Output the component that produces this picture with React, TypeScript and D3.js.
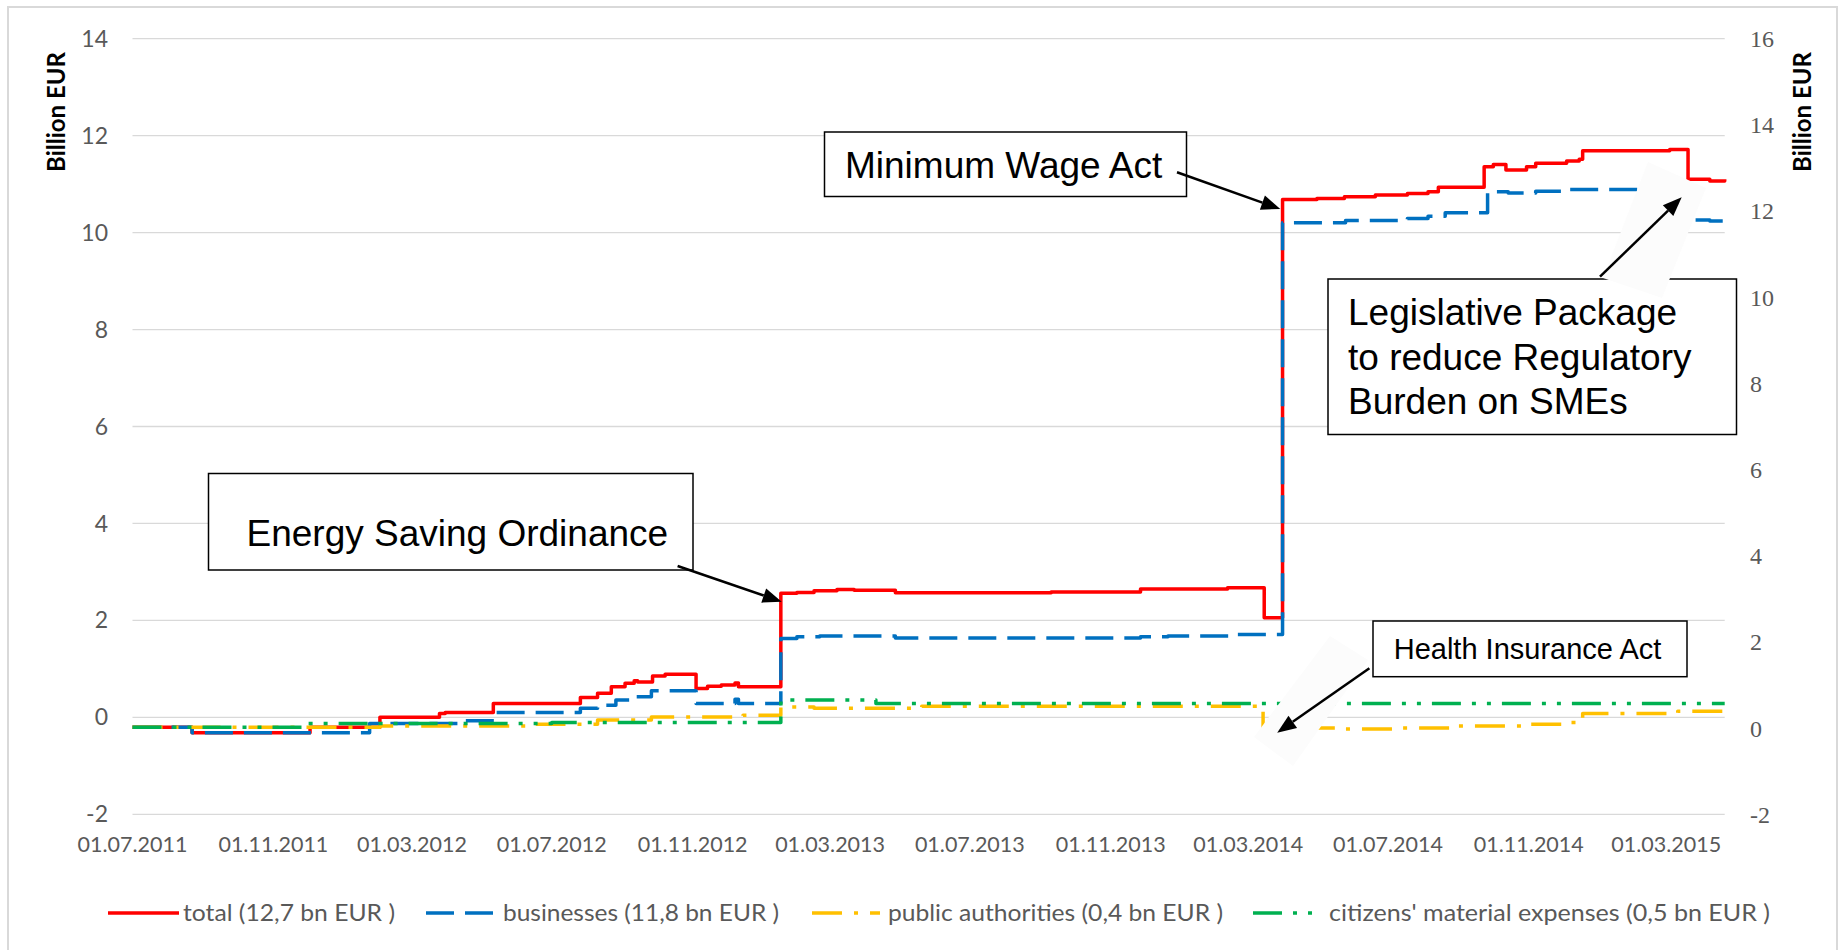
import React from 'react';
import * as d3 from 'd3';

// values (secondary / right axis, bn EUR)
const total: [string, number][] = [
  ['2011-07-01', 0.02], ['2011-08-22', -0.11], ['2011-12-03', 0.02], ['2012-02-02', 0.25],
  ['2012-03-25', 0.34], ['2012-03-30', 0.36], ['2012-05-11', 0.57], ['2012-07-26', 0.71],
  ['2012-08-10', 0.81], ['2012-08-22', 0.96], ['2012-09-03', 1.04], ['2012-09-11', 1.1],
  ['2012-09-14', 1.07], ['2012-09-27', 1.21], ['2012-10-08', 1.25], ['2012-11-04', 0.92],
  ['2012-11-14', 0.97], ['2012-11-26', 1.0], ['2012-12-08', 1.05], ['2012-12-11', 0.96],
  ['2013-01-17', 3.13], ['2013-01-31', 3.15], ['2013-02-15', 3.19], ['2013-03-07', 3.22],
  ['2013-03-22', 3.2], ['2013-04-27', 3.14], ['2013-09-10', 3.16], ['2013-11-27', 3.23],
  ['2014-02-11', 3.26], ['2014-03-15', 2.56], ['2014-03-31', 12.27], ['2014-04-30', 12.29],
  ['2014-05-24', 12.33], ['2014-06-20', 12.37], ['2014-07-18', 12.41], ['2014-08-05', 12.45],
  ['2014-08-14', 12.55], ['2014-09-23', 13.03], ['2014-10-01', 13.08], ['2014-10-12', 12.95],
  ['2014-10-30', 13.03], ['2014-11-07', 13.11], ['2014-12-04', 13.16], ['2014-12-15', 13.2],
  ['2014-12-18', 13.4], ['2015-03-04', 13.43], ['2015-03-20', 12.74], ['2015-04-08', 12.7],
  ['2015-04-21', 12.74],
];

const businesses: [string, number][] = [
  ['2011-07-01', 0.02], ['2011-08-22', -0.11], ['2012-01-24', 0.11], ['2012-04-15', 0.17],
  ['2012-05-13', 0.36], ['2012-07-26', 0.46], ['2012-08-10', 0.53], ['2012-08-26', 0.65],
  ['2012-09-11', 0.73], ['2012-09-26', 0.87], ['2012-11-04', 0.57], ['2012-12-08', 0.67],
  ['2012-12-11', 0.57], ['2013-01-17', 2.08], ['2013-01-31', 2.12], ['2013-02-20', 2.14],
  ['2013-04-27', 2.09], ['2013-11-27', 2.12], ['2013-12-21', 2.14], ['2014-02-17', 2.17],
  ['2014-03-31', 11.73], ['2014-05-25', 11.78], ['2014-07-18', 11.83], ['2014-08-05', 11.88],
  ['2014-08-20', 11.96], ['2014-09-26', 12.45], ['2014-10-14', 12.42], ['2014-11-07', 12.46],
  ['2014-12-04', 12.5], ['2015-03-20', 11.79], ['2015-04-08', 11.77], ['2015-04-21', 11.81],
];

const publicAuthorities: [string, number][] = [
  ['2011-07-01', 0.02], ['2012-02-02', 0.05], ['2012-06-17', 0.09], ['2012-08-10', 0.19],
  ['2012-09-26', 0.26], ['2012-12-15', 0.3], ['2013-01-17', 0.49], ['2013-02-15', 0.46],
  ['2013-05-20', 0.51], ['2014-03-14', 0.0], ['2014-05-20', -0.02], ['2014-07-05', 0.0],
  ['2014-08-25', 0.05], ['2014-10-29', 0.09], ['2014-12-01', 0.13], ['2014-12-18', 0.34],
  ['2015-03-11', 0.39], ['2015-04-21', 0.4],
];

const citizens: [string, number][] = [
  ['2011-07-01', 0.02], ['2011-12-01', 0.11], ['2012-07-01', 0.13], ['2013-01-17', 0.65],
  ['2013-04-10', 0.57], ['2015-04-21', 0.57],
];

const xTickLabels = [
  '01.07.2011', '01.11.2011', '01.03.2012', '01.07.2012', '01.11.2012', '01.03.2013',
  '01.07.2013', '01.11.2013', '01.03.2014', '01.07.2014', '01.11.2014', '01.03.2015',
];
const leftTicks = [-2, 0, 2, 4, 6, 8, 10, 12, 14];
const rightTicks = [-2, 0, 2, 4, 6, 8, 10, 12, 14, 16];

const seriesNames = [
  'total (12,7 bn EUR )',
  'businesses (11,8 bn EUR )',
  'public authorities (0,4 bn EUR )',
  "citizens' material expenses (0,5 bn EUR )",
];

const parseIso = d3.timeParse('%Y-%m-%d');
const parseDe = d3.timeParse('%d.%m.%Y');

const series = [
  { name: seriesNames[0], data: total, color: '#FF0000', dash: undefined as string | undefined },
  { name: seriesNames[1], data: businesses, color: '#0070C0', dash: '28 11' },
  { name: seriesNames[2], data: publicAuthorities, color: '#FFC000', dash: '30 12 4 12' },
  { name: seriesNames[3], data: citizens, color: '#00B050', dash: '29 11 4 11 4 11' },
];

// legend layout: sample line and text extents
const legendPos = [
  { x1: 108, x2: 179, tx: 183, tw: 212 },
  { x1: 426, x2: 496, tx: 503, tw: 276 },
  { x1: 812, x2: 880, tx: 888, tw: 335 },
  { x1: 1253, x2: 1317, tx: 1329, tw: 441 },
];

const tickFont = 'Lato, "Noto Sans", sans-serif';
const boxFont = '"Liberation Sans", Arial, sans-serif';

function Arrow({ x1, y1, x2, y2 }: { x1: number; y1: number; x2: number; y2: number }) {
  const a = Math.atan2(y2 - y1, x2 - x1);
  const len = 19, half = 7.5;
  const bx = x2 - len * Math.cos(a), by = y2 - len * Math.sin(a);
  const px = -Math.sin(a) * half, py = Math.cos(a) * half;
  return (
    <g>
      <line x1={x1} y1={y1} x2={bx} y2={by} stroke="#000" strokeWidth={2.5} />
      <polygon points={`${x2},${y2} ${bx + px},${by + py} ${bx - px},${by - py}`} fill="#000" />
    </g>
  );
}

export default function App() {
  const x = d3.scaleTime()
    .domain([parseIso('2011-07-01') as Date, parseIso('2015-04-21') as Date])
    .range([132.5, 1724.7]);
  const yLeft = d3.scaleLinear().domain([-2, 14]).range([814.3, 38.7]);
  const yRight = d3.scaleLinear().domain([-2, 16]).range([814.3, 38.7]);

  const line = d3.line<[string, number]>()
    .x(d => x(parseIso(d[0]) as Date))
    .y(d => yRight(d[1]))
    .curve(d3.curveStepAfter);

  return (
    <svg width={1844} height={950} style={{ position: 'absolute', left: 0, top: 0, display: 'block' }}>
      <rect x={0} y={0} width={1844} height={950} fill="#fff" />
      <rect x={8} y={7} width={1829} height={960} fill="none" stroke="#D9D9D9" strokeWidth={2} />

      {/* gridlines from the primary axis */}
      {leftTicks.map(t => (
        <line key={t} x1={132.5} x2={1724.7} y1={yLeft(t)} y2={yLeft(t)} stroke="#D9D9D9" strokeWidth={1.3} />
      ))}

      {/* left axis */}
      {leftTicks.map(t => (
        <text key={t} x={108} y={yLeft(t)} dy="0.35em" textAnchor="end" fontFamily={tickFont}
          fontSize={23} fill="#595959">{t}</text>
      ))}
      <text transform="translate(65,112) rotate(-90)" textAnchor="middle" fontFamily={tickFont}
        fontWeight="bold" fontSize={24} fill="#000">Billion EUR</text>

      {/* right axis */}
      {rightTicks.map(t => (
        <text key={t} x={1750} y={yRight(t)} dy="0.35em" textAnchor="start"
          fontFamily='"Liberation Serif", serif' fontSize={24} fill="#595959">{t}</text>
      ))}
      <text transform="translate(1811,112) rotate(-90)" textAnchor="middle" fontFamily={tickFont}
        fontWeight="bold" fontSize={24} fill="#000">Billion EUR</text>

      {/* x axis labels */}
      {xTickLabels.map(l => (
        <text key={l} x={x(parseDe(l) as Date)} y={852} textAnchor="middle" fontFamily={tickFont}
          fontSize={21.5} fill="#595959">{l}</text>
      ))}

      {/* series */}
      {series.map(s => (
        <path key={s.name} d={line(s.data) ?? ''} fill="none" stroke={s.color} strokeWidth={3.5}
          strokeDasharray={s.dash} strokeLinejoin="round" />
      ))}

      {/* annotation boxes */}
      <rect x={208.5} y={473.5} width={484.5} height={96.5} fill="#fff" stroke="#000" strokeWidth={1.5} />
      <text x={246.5} y={546} fontFamily={boxFont} fontSize={37} fill="#000">Energy Saving Ordinance</text>

      <rect x={824.5} y={132} width={362} height={64.5} fill="#fff" stroke="#000" strokeWidth={1.5} />
      <text x={845} y={178.3} fontFamily={boxFont} fontSize={37} fill="#000">Minimum Wage Act</text>

      <rect x={1328} y={279} width={408.5} height={155.5} fill="#fff" stroke="#000" strokeWidth={1.5} />
      <text fontFamily={boxFont} fontSize={37} fill="#000">
        <tspan x={1348} y={325}>Legislative Package</tspan>
        <tspan x={1348} y={369.5}>to reduce Regulatory</tspan>
        <tspan x={1348} y={414}>Burden on SMEs</tspan>
      </text>

      <rect x={1373} y={621} width={314} height={55.7} fill="#fff" stroke="#000" strokeWidth={1.5} />
      <text x={1393.7} y={659.3} fontFamily={boxFont} fontSize={29} fill="#000">Health Insurance Act</text>

      {/* faint shapes behind the two right arrows */}
      <polygon points="1648,162 1706,188 1662,298 1603,278" fill="#FCFCFC" />
      <polygon points="1254,737 1330,636 1368,660 1293,766" fill="#FCFCFC" />

      <Arrow x1={677.6} y1={566} x2={781.7} y2={601.7} />
      <Arrow x1={1177} y1={172.3} x2={1280.3} y2={209} />
      <Arrow x1={1600} y1={276.7} x2={1681.7} y2={197.3} />
      <Arrow x1={1369.4} y1={668.3} x2={1277.2} y2={732.7} />

      {/* legend */}
      {series.map((s, i) => (
        <g key={s.name}>
          <line x1={legendPos[i].x1} x2={legendPos[i].x2} y1={913} y2={913} stroke={s.color}
            strokeWidth={3.5} strokeDasharray={s.dash} />
          <text x={legendPos[i].tx} y={913} dy="0.35em" fontFamily={tickFont} fontSize={23}
            textLength={legendPos[i].tw} lengthAdjust="spacingAndGlyphs" fill="#595959">{s.name}</text>
        </g>
      ))}
    </svg>
  );
}
